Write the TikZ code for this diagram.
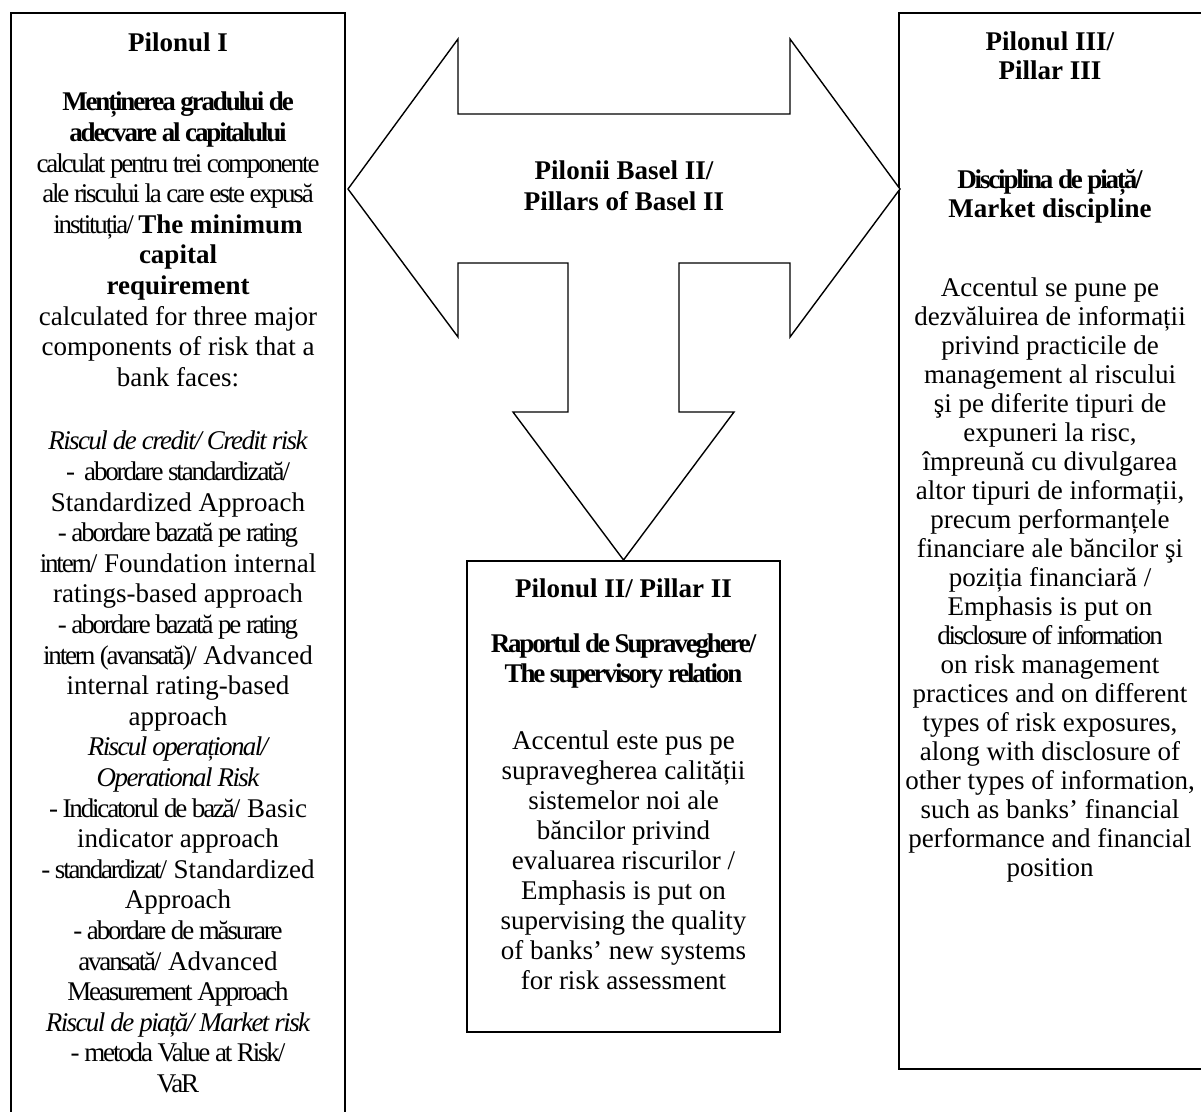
\documentclass[tikz,border=0pt]{standalone}
\usepackage{fontspec}
\setmainfont{Liberation Serif}
\newfontfamily\cond[LetterSpace=-8]{Liberation Serif}
\newfontfamily\condit[LetterSpace=-6]{Liberation Serif}
\begin{document}
\begin{tikzpicture}[x=1pt,y=-1pt,
  frame/.style={draw=black,line width=1.6pt},
  body/.style={align=center,inner sep=0pt,anchor=north,
    font=\fontsize{27}{30}\selectfont},
  bigarrow/.style={draw=black,line width=1.4pt,fill=white,line join=miter}]
\useasboundingbox (0,0) rectangle (1201,1111);
\begin{scope}
\clip (0,0) rectangle (1201,1111);
% pillar boxes
\draw[frame] (11,13) rectangle (345,1130);
\draw[frame] (899,13) rectangle (1210,1069);
\draw[frame] (467,561) rectangle (780,1032);
\end{scope}

% three-headed block arrow
\draw[bigarrow] (348,189) -- (458,39) -- (458,114) -- (790,114) -- (790,39)
  -- (900,189) -- (790,337) -- (790,263) -- (679,263) -- (679,412)
  -- (734,412) -- (623.5,560) -- (513,412) -- (568,412) -- (568,263)
  -- (458,263) -- (458,337) -- cycle;
\node[body,anchor=center,font=\fontsize{27}{31}\selectfont\bfseries] (hub) at (624,186)
  {Pilonii Basel II/\\Pillars of Basel II};

% Pillar I
\node[body,font=\fontsize{27}{30.6}\selectfont] (p1) at (178,33) {%
\textbf{Pilonul I}\\[28.4pt]
{\cond\bfseries Menținerea gradului de}\\
{\cond\bfseries adecvare al capitalului}\\
{\cond calculat pentru trei componente}\\
{\cond ale riscului la care este expusă}\\
{\cond instituția/} \textbf{The minimum}\\
\textbf{capital}\\
\textbf{requirement}\\
calculated for three major\\
components of risk that a\\
bank faces:\\[33pt]
{\condit\itshape Riscul de credit/ Credit risk}\\
{\cond -\ \ abordare standardizată/}\\
Standardized Approach\\
{\cond - abordare bazată pe rating}\\
{\cond intern/} Foundation internal\\
ratings-based approach\\
{\cond - abordare bazată pe rating}\\
{\cond intern (avansată)/} Advanced\\
internal rating-based\\
approach\\
{\condit\itshape Riscul operațional/}\\
{\condit\itshape Operational Risk}\\
{\cond - Indicatorul de bază/} Basic\\
indicator approach\\
{\cond - standardizat/} Standardized\\
Approach\\
{\cond - abordare de măsurare}\\
{\cond avansată/} Advanced\\
{\cond Measurement Approach}\\
{\condit\itshape Riscul de piață/ Market risk}\\
{\cond - metoda Value at Risk/}\\
{\cond VaR}};

% Pillar II
\node[body] (p2) at (623.5,579) {%
\textbf{Pilonul II/ Pillar II}\\[25pt]
{\cond\bfseries Raportul de Supraveghere/}\\
{\cond\bfseries The supervisory relation}\\[37pt]
Accentul este pus pe\\
supravegherea calității\\
sistemelor noi ale\\
băncilor privind\\
evaluarea riscurilor /\\
Emphasis is put on\\
supervising the quality\\
of banks’ new systems\\
for risk assessment};

% Pillar III
\node[body,font=\fontsize{27}{29}\selectfont] (p3) at (1050,32) {%
\textbf{Pilonul III/}\\
\textbf{Pillar III}\\[80pt]
{\cond\bfseries Disciplina de piață/}\\
\textbf{Market discipline}\\[50pt]
Accentul se pune pe\\
dezvăluirea de informații\\
privind practicile de\\
management al riscului\\
şi pe diferite tipuri de\\
expuneri la risc,\\
împreună cu divulgarea\\
altor tipuri de informații,\\
precum performanțele\\
financiare ale băncilor şi\\
poziția financiară /\\
Emphasis is put on\\
{\cond disclosure of information}\\
on risk management\\
practices and on different\\
types of risk exposures,\\
along with disclosure of\\
other types of information,\\
such as banks’ financial\\
performance and financial\\
position};
\end{tikzpicture}
\end{document}
